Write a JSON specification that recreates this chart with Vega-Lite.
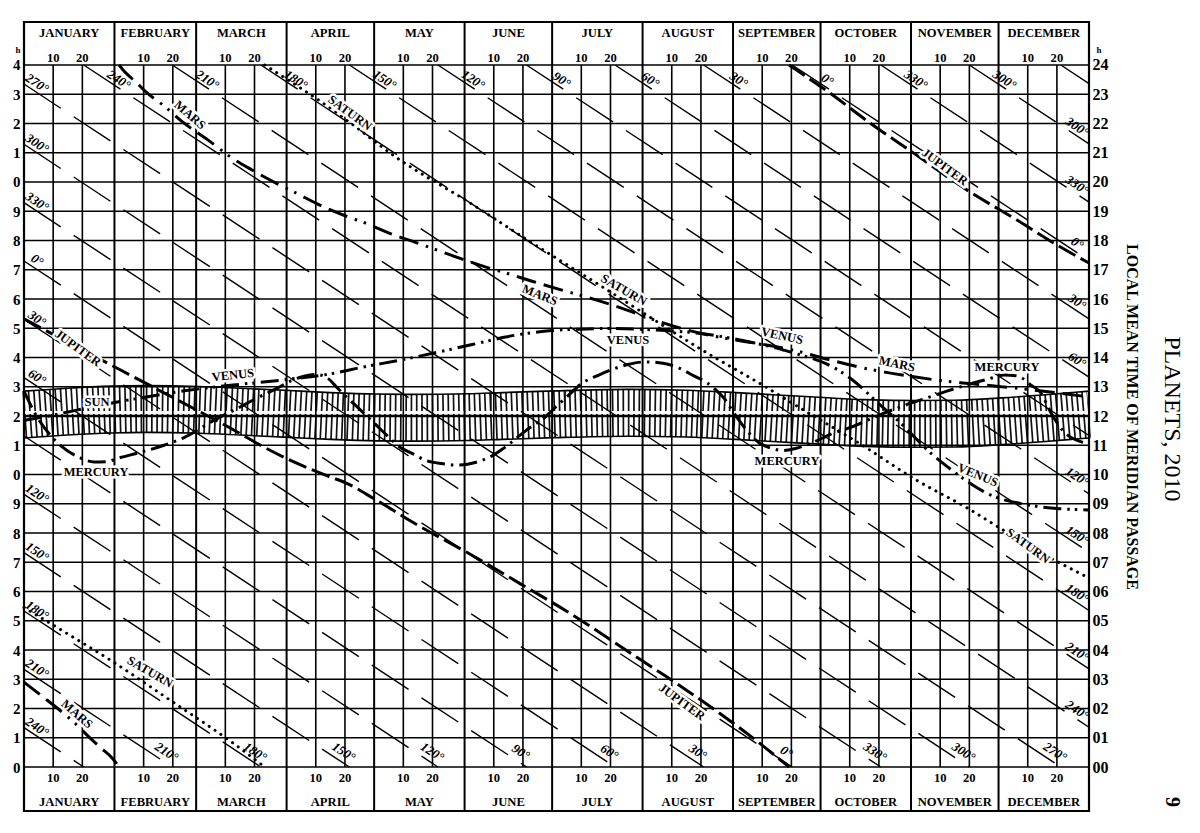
{
  "$schema": "https://vega.github.io/schema/vega-lite/v6.json",
  "width": 1065,
  "height": 789,
  "autosize": {"type": "none"},
  "padding": {"left": 24, "top": 22, "right": 111, "bottom": 22},
  "background": "white",
  "config": {
    "view": {"stroke": "#000", "strokeWidth": 2.2},
    "font": "Liberation Serif",
    "text": {"font": "Liberation Serif", "color": "#000"}
  },
  "datasets": {
    "band": [
      {"d": 0, "sun": 12.05, "top": 12.85, "bot": 11.25},
      {"d": 15, "sun": 12.15, "top": 12.95, "bot": 11.35},
      {"d": 30, "sun": 12.22, "top": 13.02, "bot": 11.42},
      {"d": 42, "sun": 12.24, "top": 13.04, "bot": 11.44},
      {"d": 60, "sun": 12.21, "top": 13.01, "bot": 11.41},
      {"d": 74, "sun": 12.15, "top": 12.95, "bot": 11.35},
      {"d": 91, "sun": 12.07, "top": 12.87, "bot": 11.27},
      {"d": 105, "sun": 12.0, "top": 12.8, "bot": 11.2},
      {"d": 121, "sun": 11.95, "top": 12.75, "bot": 11.15},
      {"d": 134, "sun": 11.94, "top": 12.74, "bot": 11.14},
      {"d": 152, "sun": 11.96, "top": 12.76, "bot": 11.16},
      {"d": 164, "sun": 12.0, "top": 12.8, "bot": 11.2},
      {"d": 182, "sun": 12.06, "top": 12.86, "bot": 11.26},
      {"d": 207, "sun": 12.11, "top": 12.91, "bot": 11.31},
      {"d": 227, "sun": 12.08, "top": 12.88, "bot": 11.28},
      {"d": 244, "sun": 12.0, "top": 12.8, "bot": 11.2},
      {"d": 258, "sun": 11.92, "top": 12.72, "bot": 11.12},
      {"d": 274, "sun": 11.83, "top": 12.63, "bot": 11.03},
      {"d": 288, "sun": 11.76, "top": 12.56, "bot": 10.96},
      {"d": 307, "sun": 11.73, "top": 12.53, "bot": 10.93},
      {"d": 319, "sun": 11.74, "top": 12.54, "bot": 10.94},
      {"d": 335, "sun": 11.82, "top": 12.62, "bot": 11.02},
      {"d": 349, "sun": 11.92, "top": 12.72, "bot": 11.12},
      {"d": 359, "sun": 12.0, "top": 12.8, "bot": 11.2},
      {"d": 365, "sun": 12.05, "top": 12.85, "bot": 11.25}
    ],
    "hours": [
      {"hv": 0}, {"hv": 1}, {"hv": 2}, {"hv": 3}, {"hv": 4}, {"hv": 5}, {"hv": 6}, {"hv": 7}, {"hv": 8}, {"hv": 9}, {"hv": 10}, {"hv": 11}, {"hv": 12},
      {"hv": 13}, {"hv": 14}, {"hv": 15}, {"hv": 16}, {"hv": 17}, {"hv": 18}, {"hv": 19}, {"hv": 20}, {"hv": 21}, {"hv": 22}, {"hv": 23}, {"hv": 24}
    ],
    "daylines": [
      {"d": 10, "t": "10"}, {"d": 20, "t": "20"}, {"d": 41, "t": "10"}, {"d": 51, "t": "20"},
      {"d": 69, "t": "10"}, {"d": 79, "t": "20"}, {"d": 100, "t": "10"}, {"d": 110, "t": "20"},
      {"d": 130, "t": "10"}, {"d": 140, "t": "20"}, {"d": 161, "t": "10"}, {"d": 171, "t": "20"},
      {"d": 191, "t": "10"}, {"d": 201, "t": "20"}, {"d": 222, "t": "10"}, {"d": 232, "t": "20"},
      {"d": 253, "t": "10"}, {"d": 263, "t": "20"}, {"d": 283, "t": "10"}, {"d": 293, "t": "20"},
      {"d": 314, "t": "10"}, {"d": 324, "t": "20"}, {"d": 344, "t": "10"}, {"d": 354, "t": "20"}
    ],
    "monthlines": [
      {"d": 0}, {"d": 31}, {"d": 59}, {"d": 90}, {"d": 120}, {"d": 151}, {"d": 181},
      {"d": 212}, {"d": 243}, {"d": 273}, {"d": 304}, {"d": 334}, {"d": 365}
    ],
    "months": [
      {"d": 15.5, "t": "JANUARY"}, {"d": 45, "t": "FEBRUARY"}, {"d": 74.5, "t": "MARCH"},
      {"d": 105, "t": "APRIL"}, {"d": 135.5, "t": "MAY"}, {"d": 166, "t": "JUNE"},
      {"d": 196.5, "t": "JULY"}, {"d": 227.5, "t": "AUGUST"}, {"d": 258, "t": "SEPTEMBER"},
      {"d": 288.5, "t": "OCTOBER"}, {"d": 319, "t": "NOVEMBER"}, {"d": 349.5, "t": "DECEMBER"}
    ],
    "ra": [
      {"k": "270a", "d": 0, "h": 23.35}, {"k": "270a", "d": 355.35, "h": 0},
      {"k": "270b", "d": 355.35, "h": 24}, {"k": "270b", "d": 365, "h": 23.366},
      {"k": "240a", "d": 0, "h": 1.3445}, {"k": "240a", "d": 20.46, "h": 0},
      {"k": "240b", "d": 20.46, "h": 24}, {"k": "240b", "d": 365, "h": 1.36},
      {"k": "210a", "d": 0, "h": 3.339}, {"k": "210a", "d": 50.81, "h": 0},
      {"k": "210b", "d": 50.81, "h": 24}, {"k": "210b", "d": 365, "h": 3.355},
      {"k": "180a", "d": 0, "h": 5.3335}, {"k": "180a", "d": 81.17, "h": 0},
      {"k": "180b", "d": 81.17, "h": 24}, {"k": "180b", "d": 365, "h": 5.35},
      {"k": "150a", "d": 0, "h": 7.328}, {"k": "150a", "d": 111.52, "h": 0},
      {"k": "150b", "d": 111.52, "h": 24}, {"k": "150b", "d": 365, "h": 7.344},
      {"k": "120a", "d": 0, "h": 9.3225}, {"k": "120a", "d": 141.87, "h": 0},
      {"k": "120b", "d": 141.87, "h": 24}, {"k": "120b", "d": 365, "h": 9.338},
      {"k": "90a", "d": 0, "h": 11.317}, {"k": "90a", "d": 172.23, "h": 0},
      {"k": "90b", "d": 172.23, "h": 24}, {"k": "90b", "d": 365, "h": 11.333},
      {"k": "60a", "d": 0, "h": 13.3115}, {"k": "60a", "d": 202.58, "h": 0},
      {"k": "60b", "d": 202.58, "h": 24}, {"k": "60b", "d": 365, "h": 13.328},
      {"k": "30a", "d": 0, "h": 15.306}, {"k": "30a", "d": 232.93, "h": 0},
      {"k": "30b", "d": 232.93, "h": 24}, {"k": "30b", "d": 365, "h": 15.322},
      {"k": "0a", "d": 0, "h": 17.3005}, {"k": "0a", "d": 263.29, "h": 0},
      {"k": "0b", "d": 263.29, "h": 24}, {"k": "0b", "d": 365, "h": 17.316},
      {"k": "330a", "d": 0, "h": 19.295}, {"k": "330a", "d": 293.64, "h": 0},
      {"k": "330b", "d": 293.64, "h": 24}, {"k": "330b", "d": 365, "h": 19.311},
      {"k": "300a", "d": 0, "h": 21.2895}, {"k": "300a", "d": 323.99, "h": 0},
      {"k": "300b", "d": 323.99, "h": 24}, {"k": "300b", "d": 365, "h": 21.305}
    ],
    "ralabels": [
      {"t": "270°", "d": 4.45, "h": 23.37}, {"t": "300°", "d": 4.45, "h": 21.31}, {"t": "330°", "d": 4.45, "h": 19.315},
      {"t": "0°", "d": 4.45, "h": 17.32}, {"t": "30°", "d": 4.45, "h": 15.326}, {"t": "60°", "d": 4.45, "h": 13.33},
      {"t": "120°", "d": 4.45, "h": 9.34}, {"t": "150°", "d": 4.45, "h": 7.35}, {"t": "180°", "d": 4.45, "h": 5.35},
      {"t": "210°", "d": 4.45, "h": 3.36}, {"t": "240°", "d": 4.45, "h": 1.36},
      {"t": "240°", "d": 32.46, "h": 23.49}, {"t": "210°", "d": 62.81, "h": 23.49}, {"t": "180°", "d": 93.17, "h": 23.49},
      {"t": "150°", "d": 123.52, "h": 23.49}, {"t": "120°", "d": 153.87, "h": 23.49}, {"t": "90°", "d": 184.23, "h": 23.49},
      {"t": "60°", "d": 214.58, "h": 23.49}, {"t": "30°", "d": 244.93, "h": 23.49}, {"t": "0°", "d": 275.29, "h": 23.49},
      {"t": "330°", "d": 305.64, "h": 23.49}, {"t": "300°", "d": 335.99, "h": 23.49},
      {"t": "300°", "d": 360.9, "h": 21.88}, {"t": "330°", "d": 360.9, "h": 19.89}, {"t": "0°", "d": 360.9, "h": 17.9},
      {"t": "30°", "d": 360.9, "h": 15.9}, {"t": "60°", "d": 360.9, "h": 13.91}, {"t": "120°", "d": 360.9, "h": 9.92},
      {"t": "150°", "d": 360.9, "h": 7.92}, {"t": "180°", "d": 360.9, "h": 5.93}, {"t": "210°", "d": 360.9, "h": 3.93},
      {"t": "240°", "d": 360.9, "h": 1.94},
      {"t": "210°", "d": 48.81, "h": 0.51}, {"t": "180°", "d": 79.17, "h": 0.51}, {"t": "150°", "d": 109.52, "h": 0.51},
      {"t": "120°", "d": 139.87, "h": 0.51}, {"t": "90°", "d": 170.23, "h": 0.51}, {"t": "60°", "d": 200.58, "h": 0.51},
      {"t": "30°", "d": 230.93, "h": 0.51}, {"t": "0°", "d": 261.29, "h": 0.51}, {"t": "330°", "d": 291.64, "h": 0.51},
      {"t": "300°", "d": 321.99, "h": 0.51}, {"t": "270°", "d": 353.35, "h": 0.51}
    ],
    "mercury": [
      {"d": 0, "h": 12.85}, {"d": 4, "h": 12.05}, {"d": 9, "h": 11.35}, {"d": 13, "h": 10.95}, {"d": 19, "h": 10.58},
      {"d": 24, "h": 10.43}, {"d": 28, "h": 10.44}, {"d": 33, "h": 10.58}, {"d": 40, "h": 10.76}, {"d": 48, "h": 11.0},
      {"d": 55, "h": 11.27}, {"d": 60, "h": 11.55}, {"d": 65, "h": 11.85}, {"d": 73, "h": 12.25}, {"d": 80, "h": 12.62},
      {"d": 87, "h": 12.96}, {"d": 91, "h": 13.18}, {"d": 96, "h": 13.36}, {"d": 100, "h": 13.42}, {"d": 104, "h": 13.3},
      {"d": 107, "h": 13.0}, {"d": 110, "h": 12.7}, {"d": 114, "h": 12.33}, {"d": 117.5, "h": 12.0}, {"d": 121, "h": 11.66},
      {"d": 125, "h": 11.28}, {"d": 129, "h": 10.92}, {"d": 133, "h": 10.72}, {"d": 138, "h": 10.47}, {"d": 143.6, "h": 10.37},
      {"d": 148, "h": 10.32}, {"d": 152, "h": 10.35}, {"d": 156, "h": 10.45}, {"d": 161, "h": 10.67}, {"d": 164, "h": 10.87},
      {"d": 168, "h": 11.18}, {"d": 172, "h": 11.5}, {"d": 179, "h": 12.0}, {"d": 183, "h": 12.38}, {"d": 186, "h": 12.65},
      {"d": 191, "h": 13.1}, {"d": 197, "h": 13.4}, {"d": 201, "h": 13.57}, {"d": 207, "h": 13.76}, {"d": 213, "h": 13.85},
      {"d": 219, "h": 13.8}, {"d": 225, "h": 13.62}, {"d": 229, "h": 13.4}, {"d": 234, "h": 13.14}, {"d": 237, "h": 12.9},
      {"d": 240, "h": 12.6}, {"d": 243, "h": 12.15}, {"d": 247, "h": 11.6}, {"d": 252, "h": 11.08}, {"d": 256, "h": 10.9},
      {"d": 260, "h": 10.82}, {"d": 264, "h": 10.88}, {"d": 270, "h": 11.08}, {"d": 277, "h": 11.4}, {"d": 283, "h": 11.6},
      {"d": 290, "h": 11.9}, {"d": 300, "h": 12.3}, {"d": 311, "h": 12.67}, {"d": 316, "h": 12.84}, {"d": 323, "h": 13.06},
      {"d": 330, "h": 13.25}, {"d": 336, "h": 13.4}, {"d": 340, "h": 13.38}, {"d": 342, "h": 13.3}, {"d": 345, "h": 13.06},
      {"d": 348, "h": 12.85}, {"d": 352.6, "h": 12.0}, {"d": 357, "h": 11.4}, {"d": 365, "h": 11.05}
    ],
    "venus": [
      {"d": 0, "h": 11.85}, {"d": 11, "h": 12.05}, {"d": 25, "h": 12.35}, {"d": 40, "h": 12.62}, {"d": 55, "h": 12.86},
      {"d": 71.6, "h": 13.06}, {"d": 82, "h": 13.16}, {"d": 92, "h": 13.27}, {"d": 105, "h": 13.44}, {"d": 116, "h": 13.67},
      {"d": 130, "h": 13.93}, {"d": 143.6, "h": 14.22}, {"d": 157, "h": 14.52}, {"d": 165, "h": 14.7}, {"d": 172, "h": 14.82},
      {"d": 181, "h": 14.92}, {"d": 190, "h": 14.97}, {"d": 200, "h": 14.99}, {"d": 210, "h": 14.97}, {"d": 220, "h": 14.92},
      {"d": 232, "h": 14.82}, {"d": 240, "h": 14.7}, {"d": 250, "h": 14.5}, {"d": 258, "h": 14.32}, {"d": 265, "h": 14.12},
      {"d": 275, "h": 13.78}, {"d": 282, "h": 13.38}, {"d": 287, "h": 12.98}, {"d": 291, "h": 12.6}, {"d": 296, "h": 12.15},
      {"d": 300, "h": 11.8}, {"d": 305, "h": 11.3}, {"d": 310, "h": 10.8}, {"d": 315, "h": 10.38}, {"d": 320, "h": 10.0},
      {"d": 325, "h": 9.65}, {"d": 330, "h": 9.36}, {"d": 335, "h": 9.16}, {"d": 341, "h": 9.02}, {"d": 348, "h": 8.9},
      {"d": 355, "h": 8.83}, {"d": 365, "h": 8.79}
    ],
    "mars": [
      {"s": "a", "d": 0, "h": 2.9}, {"s": "a", "d": 6.2, "h": 2.42}, {"s": "a", "d": 14, "h": 1.8}, {"s": "a", "d": 18, "h": 1.45},
      {"s": "a", "d": 21, "h": 1.15}, {"s": "a", "d": 26, "h": 0.68}, {"s": "a", "d": 30.2, "h": 0.31}, {"s": "a", "d": 32.6, "h": 0.0},
      {"s": "b", "d": 32.6, "h": 24.0}, {"s": "b", "d": 33.9, "h": 23.84}, {"s": "b", "d": 38.7, "h": 23.38}, {"s": "b", "d": 41.8, "h": 23.08},
      {"s": "b", "d": 48.5, "h": 22.56}, {"s": "b", "d": 54.1, "h": 22.07}, {"s": "b", "d": 63, "h": 21.44}, {"s": "b", "d": 71.6, "h": 20.8},
      {"s": "b", "d": 78, "h": 20.42}, {"s": "b", "d": 87, "h": 19.93}, {"s": "b", "d": 92.9, "h": 19.64}, {"s": "b", "d": 102, "h": 19.18},
      {"s": "b", "d": 110.7, "h": 18.82}, {"s": "b", "d": 116.9, "h": 18.6}, {"s": "b", "d": 126, "h": 18.22}, {"s": "b", "d": 134.6, "h": 17.92},
      {"s": "b", "d": 140.8, "h": 17.7}, {"s": "b", "d": 150, "h": 17.37}, {"s": "b", "d": 158.6, "h": 17.08}, {"s": "b", "d": 164.8, "h": 16.9},
      {"s": "b", "d": 174.4, "h": 16.6}, {"s": "b", "d": 188, "h": 16.2}, {"s": "b", "d": 196, "h": 15.97}, {"s": "b", "d": 205, "h": 15.68},
      {"s": "b", "d": 215, "h": 15.32}, {"s": "b", "d": 225, "h": 15.0}, {"s": "b", "d": 235, "h": 14.76}, {"s": "b", "d": 245, "h": 14.58},
      {"s": "b", "d": 255, "h": 14.42}, {"s": "b", "d": 265, "h": 14.22}, {"s": "b", "d": 275, "h": 13.95}, {"s": "b", "d": 285, "h": 13.7},
      {"s": "b", "d": 295, "h": 13.5}, {"s": "b", "d": 305, "h": 13.34}, {"s": "b", "d": 315, "h": 13.2}, {"s": "b", "d": 325, "h": 13.1},
      {"s": "b", "d": 335, "h": 13.0}, {"s": "b", "d": 345, "h": 12.9}, {"s": "b", "d": 355, "h": 12.78}, {"s": "b", "d": 365, "h": 12.65}
    ],
    "jupiter": [
      {"s": "a", "d": 0, "h": 15.32}, {"s": "a", "d": 20, "h": 14.26}, {"s": "a", "d": 40, "h": 13.21}, {"s": "a", "d": 60, "h": 12.16},
      {"s": "a", "d": 70.5, "h": 11.6}, {"s": "a", "d": 82, "h": 10.95}, {"s": "a", "d": 91, "h": 10.5}, {"s": "a", "d": 104, "h": 9.95},
      {"s": "a", "d": 110.6, "h": 9.7}, {"s": "a", "d": 120, "h": 9.17}, {"s": "a", "d": 133.7, "h": 8.34}, {"s": "a", "d": 154.6, "h": 7.18},
      {"s": "a", "d": 170, "h": 6.27}, {"s": "a", "d": 186.4, "h": 5.3}, {"s": "a", "d": 207.3, "h": 3.93}, {"s": "a", "d": 220, "h": 3.1},
      {"s": "a", "d": 235.4, "h": 2.05}, {"s": "a", "d": 250, "h": 0.98}, {"s": "a", "d": 262.2, "h": 0.0},
      {"s": "b", "d": 262.2, "h": 24.0}, {"s": "b", "d": 276.2, "h": 23.04}, {"s": "b", "d": 289.9, "h": 22.02}, {"s": "b", "d": 304.3, "h": 21.03},
      {"s": "b", "d": 324.2, "h": 19.66}, {"s": "b", "d": 340.3, "h": 18.7}, {"s": "b", "d": 354, "h": 17.85}, {"s": "b", "d": 365, "h": 17.23}
    ],
    "saturn": [
      {"s": "a", "d": 0, "h": 5.45}, {"s": "a", "d": 15, "h": 4.55}, {"s": "a", "d": 29.5, "h": 3.66}, {"s": "a", "d": 50, "h": 2.29},
      {"s": "a", "d": 71.6, "h": 0.82}, {"s": "a", "d": 82.5, "h": 0.0},
      {"s": "b", "d": 82.5, "h": 24.0}, {"s": "b", "d": 105.9, "h": 22.46}, {"s": "b", "d": 128.9, "h": 20.75}, {"s": "b", "d": 151.8, "h": 19.35},
      {"s": "b", "d": 174.4, "h": 17.9}, {"s": "b", "d": 196.4, "h": 16.53}, {"s": "b", "d": 208.7, "h": 15.75}, {"s": "b", "d": 231.7, "h": 14.3},
      {"s": "b", "d": 254.6, "h": 12.97}, {"s": "b", "d": 265.9, "h": 12.28}, {"s": "b", "d": 286.5, "h": 11.05}, {"s": "b", "d": 306, "h": 9.8},
      {"s": "b", "d": 323.2, "h": 8.86}, {"s": "b", "d": 336.9, "h": 8.02}, {"s": "b", "d": 350, "h": 7.25}, {"s": "b", "d": 365, "h": 6.46}
    ],
    "plabels0": [
      {"t": "SUN", "d": 25.0, "h": 12.48}, {"t": "MERCURY", "d": 24.7, "h": 10.09}, {"t": "MERCURY", "d": 261.5, "h": 10.46},
      {"t": "MERCURY", "d": 336.9, "h": 13.68}, {"t": "VENUS", "d": 207.0, "h": 14.6}
    ],
    "plabelsm6": [{"t": "VENUS", "d": 71.6, "h": 13.4}],
    "plabels12": [{"t": "MARS", "d": 299.2, "h": 13.78}, {"t": "VENUS", "d": 259.8, "h": 14.74}],
    "plabels22": [{"t": "VENUS", "d": 326.9, "h": 9.98}, {"t": "MARS", "d": 176.8, "h": 16.14}],
    "plabels30": [{"t": "SATURN", "d": 205.6, "h": 16.31}, {"t": "SATURN", "d": 43.2, "h": 3.25}],
    "plabels36": [
      {"t": "SATURN", "d": 111.7, "h": 22.36}, {"t": "SATURN", "d": 344.1, "h": 7.56}, {"t": "JUPITER", "d": 18.5, "h": 14.32},
      {"t": "JUPITER", "d": 315.6, "h": 20.51}, {"t": "JUPITER", "d": 225.5, "h": 2.22}
    ],
    "plabels41": [{"t": "MARS", "d": 56.9, "h": 22.29}, {"t": "MARS", "d": 18.2, "h": 1.81}]
  },
  "layer": [
    {
      "data": {"name": "band"},
      "mark": {"type": "line", "stroke": "#111", "strokeWidth": 46.8, "strokeDash": [1.7, 3.6], "strokeCap": "butt", "interpolate": "monotone"},
      "encoding": {
        "x": {"field": "d", "type": "quantitative", "scale": {"domain": [0, 365], "nice": false, "zero": false}, "axis": null},
        "y": {"field": "sun", "type": "quantitative", "scale": {"domain": [-1.504, 25.47], "nice": false, "zero": false}, "axis": null}
      }
    },
    {
      "data": {"name": "band"},
      "mark": {"type": "line", "stroke": "#000", "strokeWidth": 1.6, "interpolate": "monotone"},
      "encoding": {
        "x": {"field": "d", "type": "quantitative", "scale": {"domain": [0, 365], "nice": false, "zero": false}, "axis": null},
        "y": {"field": "top", "type": "quantitative", "scale": {"domain": [-1.504, 25.47], "nice": false, "zero": false}, "axis": null}
      }
    },
    {
      "data": {"name": "band"},
      "mark": {"type": "line", "stroke": "#000", "strokeWidth": 1.6, "interpolate": "monotone"},
      "encoding": {
        "x": {"field": "d", "type": "quantitative", "scale": {"domain": [0, 365], "nice": false, "zero": false}, "axis": null},
        "y": {"field": "bot", "type": "quantitative", "scale": {"domain": [-1.504, 25.47], "nice": false, "zero": false}, "axis": null}
      }
    },
    {
      "data": {"values": [{"z": 1}]},
      "mark": {"type": "rule", "stroke": "#fff", "strokeWidth": 3},
      "encoding": {
        "y": {"datum": 12.12, "type": "quantitative", "scale": {"domain": [-1.504, 25.47], "nice": false, "zero": false}, "axis": null}
      }
    },
    {
      "data": {"name": "hours"},
      "mark": {"type": "rule", "stroke": "#000", "strokeWidth": 1.6},
      "encoding": {
        "y": {"field": "hv", "type": "quantitative", "scale": {"domain": [-1.504, 25.47], "nice": false, "zero": false},
          "axis": {"orient": "left", "values": [0,1,2,3,4,5,6,7,8,9,10,11,12,13,14,15,16,17,18,19,20,21,22,23,24],
            "labelExpr": "'' + (datum.value % 10)", "ticks": false, "domain": false, "grid": false,
            "labelFont": "Liberation Serif", "labelFontWeight": "bold", "labelFontSize": 15, "labelColor": "#000", "labelPadding": 4, "title": null}}
      }
    },
    {
      "data": {"name": "hours"},
      "mark": {"type": "point", "opacity": 0},
      "encoding": {
        "x": {"datum": 0, "type": "quantitative", "scale": {"domain": [0, 365], "nice": false, "zero": false}, "axis": null},
        "y": {"field": "hv", "type": "quantitative", "scale": {"domain": [-1.504, 25.47], "nice": false, "zero": false},
          "axis": {"orient": "right", "values": [0,1,2,3,4,5,6,7,8,9,10,11,12,13,14,15,16,17,18,19,20,21,22,23,24],
            "labelExpr": "datum.value < 10 ? '0' + datum.value : '' + datum.value", "ticks": false, "domain": false, "grid": false,
            "labelFont": "Liberation Serif", "labelFontWeight": "bold", "labelFontSize": 16, "labelColor": "#000", "labelPadding": 3,
            "title": "LOCAL MEAN TIME OF MERIDIAN PASSAGE", "titleFont": "Liberation Serif", "titleFontWeight": "bold", "titleFontSize": 16,
            "titleColor": "#000", "titlePadding": 15, "titleAngle": 90}}
      }
    },
    {
      "data": {"values": [{"z": 1}]},
      "mark": {"type": "rule", "stroke": "#000", "strokeWidth": 2.6},
      "encoding": {
        "y": {"datum": 12.0, "type": "quantitative", "scale": {"domain": [-1.504, 25.47], "nice": false, "zero": false}, "axis": null}
      }
    },
    {
      "data": {"name": "daylines"},
      "mark": {"type": "rule", "stroke": "#000", "strokeWidth": 1.6},
      "encoding": {
        "x": {"field": "d", "type": "quantitative", "scale": {"domain": [0, 365], "nice": false, "zero": false}, "axis": null},
        "y": {"datum": 0, "type": "quantitative", "scale": {"domain": [-1.504, 25.47], "nice": false, "zero": false}, "axis": null},
        "y2": {"datum": 24}
      }
    },
    {
      "data": {"name": "monthlines"},
      "mark": {"type": "rule", "stroke": "#000", "strokeWidth": 2},
      "encoding": {
        "x": {"field": "d", "type": "quantitative", "scale": {"domain": [0, 365], "nice": false, "zero": false}, "axis": null}
      }
    },
    {
      "data": {"name": "ra"},
      "mark": {"type": "line", "stroke": "#000", "strokeWidth": 1.4, "strokeDash": [44, 15.5], "strokeCap": "butt"},
      "encoding": {
        "x": {"field": "d", "type": "quantitative", "scale": {"domain": [0, 365], "nice": false, "zero": false}, "axis": null},
        "y": {"field": "h", "type": "quantitative", "scale": {"domain": [-1.504, 25.47], "nice": false, "zero": false}, "axis": null},
        "detail": {"field": "k"}
      }
    },
    {
      "data": {"name": "jupiter"},
      "mark": {"type": "line", "stroke": "#000", "strokeWidth": 3, "strokeDash": [19, 6], "strokeCap": "butt", "interpolate": "monotone"},
      "encoding": {
        "x": {"field": "d", "type": "quantitative", "scale": {"domain": [0, 365], "nice": false, "zero": false}, "axis": null},
        "y": {"field": "h", "type": "quantitative", "scale": {"domain": [-1.504, 25.47], "nice": false, "zero": false}, "axis": null},
        "detail": {"field": "s"}
      }
    },
    {
      "data": {"name": "saturn"},
      "mark": {"type": "line", "stroke": "#000", "strokeWidth": 3, "strokeDash": [0.1, 7], "strokeCap": "round", "interpolate": "monotone"},
      "encoding": {
        "x": {"field": "d", "type": "quantitative", "scale": {"domain": [0, 365], "nice": false, "zero": false}, "axis": null},
        "y": {"field": "h", "type": "quantitative", "scale": {"domain": [-1.504, 25.47], "nice": false, "zero": false}, "axis": null},
        "detail": {"field": "s"}
      }
    },
    {
      "data": {"name": "mars"},
      "mark": {"type": "line", "stroke": "#000", "strokeWidth": 3, "strokeDash": [20, 8, 20, 8, 2.5, 7, 2.5, 8], "strokeCap": "butt", "interpolate": "monotone"},
      "encoding": {
        "x": {"field": "d", "type": "quantitative", "scale": {"domain": [0, 365], "nice": false, "zero": false}, "axis": null},
        "y": {"field": "h", "type": "quantitative", "scale": {"domain": [-1.504, 25.47], "nice": false, "zero": false}, "axis": null},
        "detail": {"field": "s"}
      }
    },
    {
      "data": {"name": "venus"},
      "mark": {"type": "line", "stroke": "#000", "strokeWidth": 3, "strokeDash": [18, 6, 2.5, 5, 2.5, 6], "strokeCap": "butt", "interpolate": "monotone"},
      "encoding": {
        "x": {"field": "d", "type": "quantitative", "scale": {"domain": [0, 365], "nice": false, "zero": false}, "axis": null},
        "y": {"field": "h", "type": "quantitative", "scale": {"domain": [-1.504, 25.47], "nice": false, "zero": false}, "axis": null}
      }
    },
    {
      "data": {"name": "mercury"},
      "mark": {"type": "line", "stroke": "#000", "strokeWidth": 3, "strokeDash": [18, 6, 2.5, 6], "strokeCap": "butt", "interpolate": "monotone"},
      "encoding": {
        "x": {"field": "d", "type": "quantitative", "scale": {"domain": [0, 365], "nice": false, "zero": false}, "axis": null},
        "y": {"field": "h", "type": "quantitative", "scale": {"domain": [-1.504, 25.47], "nice": false, "zero": false}, "axis": null}
      }
    },
    {
      "data": {"name": "months"},
      "mark": {"type": "text", "fontSize": 12.6, "fontWeight": "bold", "align": "center", "baseline": "middle"},
      "encoding": {
        "x": {"field": "d", "type": "quantitative", "scale": {"domain": [0, 365], "nice": false, "zero": false}, "axis": null},
        "y": {"datum": 25.094, "type": "quantitative", "scale": {"domain": [-1.504, 25.47], "nice": false, "zero": false}, "axis": null},
        "text": {"field": "t"}
      }
    },
    {
      "data": {"name": "months"},
      "mark": {"type": "text", "fontSize": 12.6, "fontWeight": "bold", "align": "center", "baseline": "middle"},
      "encoding": {
        "x": {"field": "d", "type": "quantitative", "scale": {"domain": [0, 365], "nice": false, "zero": false}, "axis": null},
        "y": {"datum": -1.207, "type": "quantitative", "scale": {"domain": [-1.504, 25.47], "nice": false, "zero": false}, "axis": null},
        "text": {"field": "t"}
      }
    },
    {
      "data": {"name": "daylines"},
      "mark": {"type": "text", "fontSize": 12.6, "fontWeight": "bold", "align": "center", "baseline": "middle"},
      "encoding": {
        "x": {"field": "d", "type": "quantitative", "scale": {"domain": [0, 365], "nice": false, "zero": false}, "axis": null},
        "y": {"datum": 24.256, "type": "quantitative", "scale": {"domain": [-1.504, 25.47], "nice": false, "zero": false}, "axis": null},
        "text": {"field": "t"}
      }
    },
    {
      "data": {"name": "daylines"},
      "mark": {"type": "text", "fontSize": 12.6, "fontWeight": "bold", "align": "center", "baseline": "middle"},
      "encoding": {
        "x": {"field": "d", "type": "quantitative", "scale": {"domain": [0, 365], "nice": false, "zero": false}, "axis": null},
        "y": {"datum": -0.366, "type": "quantitative", "scale": {"domain": [-1.504, 25.47], "nice": false, "zero": false}, "axis": null},
        "text": {"field": "t"}
      }
    },
    {
      "data": {"name": "ralabels"},
      "mark": {"type": "text", "fontSize": 13, "fontStyle": "italic", "fontWeight": "bold", "align": "center", "baseline": "middle", "angle": 33.4},
      "encoding": {
        "x": {"field": "d", "type": "quantitative", "scale": {"domain": [0, 365], "nice": false, "zero": false}, "axis": null},
        "y": {"field": "h", "type": "quantitative", "scale": {"domain": [-1.504, 25.47], "nice": false, "zero": false}, "axis": null},
        "text": {"field": "t"}
      }
    },
    {
      "data": {"name": "plabels0"},
      "mark": {"type": "text", "fontSize": 12.5, "fontWeight": "bold", "align": "center", "baseline": "middle", "angle": 0, "fill": "#fff", "stroke": "#fff", "strokeWidth": 5, "strokeJoin": "round"},
      "encoding": {
        "x": {"field": "d", "type": "quantitative", "scale": {"domain": [0, 365], "nice": false, "zero": false}, "axis": null},
        "y": {"field": "h", "type": "quantitative", "scale": {"domain": [-1.504, 25.47], "nice": false, "zero": false}, "axis": null},
        "text": {"field": "t"}
      }
    },
    {
      "data": {"name": "plabels0"},
      "mark": {"type": "text", "fontSize": 12.5, "fontWeight": "bold", "align": "center", "baseline": "middle", "angle": 0},
      "encoding": {
        "x": {"field": "d", "type": "quantitative", "scale": {"domain": [0, 365], "nice": false, "zero": false}, "axis": null},
        "y": {"field": "h", "type": "quantitative", "scale": {"domain": [-1.504, 25.47], "nice": false, "zero": false}, "axis": null},
        "text": {"field": "t"}
      }
    },
    {
      "data": {"name": "plabelsm6"},
      "mark": {"type": "text", "fontSize": 12.5, "fontWeight": "bold", "align": "center", "baseline": "middle", "angle": -6, "fill": "#fff", "stroke": "#fff", "strokeWidth": 5, "strokeJoin": "round"},
      "encoding": {
        "x": {"field": "d", "type": "quantitative", "scale": {"domain": [0, 365], "nice": false, "zero": false}, "axis": null},
        "y": {"field": "h", "type": "quantitative", "scale": {"domain": [-1.504, 25.47], "nice": false, "zero": false}, "axis": null},
        "text": {"field": "t"}
      }
    },
    {
      "data": {"name": "plabelsm6"},
      "mark": {"type": "text", "fontSize": 12.5, "fontWeight": "bold", "align": "center", "baseline": "middle", "angle": -6},
      "encoding": {
        "x": {"field": "d", "type": "quantitative", "scale": {"domain": [0, 365], "nice": false, "zero": false}, "axis": null},
        "y": {"field": "h", "type": "quantitative", "scale": {"domain": [-1.504, 25.47], "nice": false, "zero": false}, "axis": null},
        "text": {"field": "t"}
      }
    },
    {
      "data": {"name": "plabels12"},
      "mark": {"type": "text", "fontSize": 12.5, "fontWeight": "bold", "align": "center", "baseline": "middle", "angle": 12, "fill": "#fff", "stroke": "#fff", "strokeWidth": 5, "strokeJoin": "round"},
      "encoding": {
        "x": {"field": "d", "type": "quantitative", "scale": {"domain": [0, 365], "nice": false, "zero": false}, "axis": null},
        "y": {"field": "h", "type": "quantitative", "scale": {"domain": [-1.504, 25.47], "nice": false, "zero": false}, "axis": null},
        "text": {"field": "t"}
      }
    },
    {
      "data": {"name": "plabels12"},
      "mark": {"type": "text", "fontSize": 12.5, "fontWeight": "bold", "align": "center", "baseline": "middle", "angle": 12},
      "encoding": {
        "x": {"field": "d", "type": "quantitative", "scale": {"domain": [0, 365], "nice": false, "zero": false}, "axis": null},
        "y": {"field": "h", "type": "quantitative", "scale": {"domain": [-1.504, 25.47], "nice": false, "zero": false}, "axis": null},
        "text": {"field": "t"}
      }
    },
    {
      "data": {"name": "plabels22"},
      "mark": {"type": "text", "fontSize": 12.5, "fontWeight": "bold", "align": "center", "baseline": "middle", "angle": 22, "fill": "#fff", "stroke": "#fff", "strokeWidth": 5, "strokeJoin": "round"},
      "encoding": {
        "x": {"field": "d", "type": "quantitative", "scale": {"domain": [0, 365], "nice": false, "zero": false}, "axis": null},
        "y": {"field": "h", "type": "quantitative", "scale": {"domain": [-1.504, 25.47], "nice": false, "zero": false}, "axis": null},
        "text": {"field": "t"}
      }
    },
    {
      "data": {"name": "plabels22"},
      "mark": {"type": "text", "fontSize": 12.5, "fontWeight": "bold", "align": "center", "baseline": "middle", "angle": 22},
      "encoding": {
        "x": {"field": "d", "type": "quantitative", "scale": {"domain": [0, 365], "nice": false, "zero": false}, "axis": null},
        "y": {"field": "h", "type": "quantitative", "scale": {"domain": [-1.504, 25.47], "nice": false, "zero": false}, "axis": null},
        "text": {"field": "t"}
      }
    },
    {
      "data": {"name": "plabels30"},
      "mark": {"type": "text", "fontSize": 12.5, "fontWeight": "bold", "align": "center", "baseline": "middle", "angle": 30, "fill": "#fff", "stroke": "#fff", "strokeWidth": 5, "strokeJoin": "round"},
      "encoding": {
        "x": {"field": "d", "type": "quantitative", "scale": {"domain": [0, 365], "nice": false, "zero": false}, "axis": null},
        "y": {"field": "h", "type": "quantitative", "scale": {"domain": [-1.504, 25.47], "nice": false, "zero": false}, "axis": null},
        "text": {"field": "t"}
      }
    },
    {
      "data": {"name": "plabels30"},
      "mark": {"type": "text", "fontSize": 12.5, "fontWeight": "bold", "align": "center", "baseline": "middle", "angle": 30},
      "encoding": {
        "x": {"field": "d", "type": "quantitative", "scale": {"domain": [0, 365], "nice": false, "zero": false}, "axis": null},
        "y": {"field": "h", "type": "quantitative", "scale": {"domain": [-1.504, 25.47], "nice": false, "zero": false}, "axis": null},
        "text": {"field": "t"}
      }
    },
    {
      "data": {"name": "plabels36"},
      "mark": {"type": "text", "fontSize": 12.5, "fontWeight": "bold", "align": "center", "baseline": "middle", "angle": 36, "fill": "#fff", "stroke": "#fff", "strokeWidth": 5, "strokeJoin": "round"},
      "encoding": {
        "x": {"field": "d", "type": "quantitative", "scale": {"domain": [0, 365], "nice": false, "zero": false}, "axis": null},
        "y": {"field": "h", "type": "quantitative", "scale": {"domain": [-1.504, 25.47], "nice": false, "zero": false}, "axis": null},
        "text": {"field": "t"}
      }
    },
    {
      "data": {"name": "plabels36"},
      "mark": {"type": "text", "fontSize": 12.5, "fontWeight": "bold", "align": "center", "baseline": "middle", "angle": 36},
      "encoding": {
        "x": {"field": "d", "type": "quantitative", "scale": {"domain": [0, 365], "nice": false, "zero": false}, "axis": null},
        "y": {"field": "h", "type": "quantitative", "scale": {"domain": [-1.504, 25.47], "nice": false, "zero": false}, "axis": null},
        "text": {"field": "t"}
      }
    },
    {
      "data": {"name": "plabels41"},
      "mark": {"type": "text", "fontSize": 12.5, "fontWeight": "bold", "align": "center", "baseline": "middle", "angle": 41, "fill": "#fff", "stroke": "#fff", "strokeWidth": 5, "strokeJoin": "round"},
      "encoding": {
        "x": {"field": "d", "type": "quantitative", "scale": {"domain": [0, 365], "nice": false, "zero": false}, "axis": null},
        "y": {"field": "h", "type": "quantitative", "scale": {"domain": [-1.504, 25.47], "nice": false, "zero": false}, "axis": null},
        "text": {"field": "t"}
      }
    },
    {
      "data": {"name": "plabels41"},
      "mark": {"type": "text", "fontSize": 12.5, "fontWeight": "bold", "align": "center", "baseline": "middle", "angle": 41},
      "encoding": {
        "x": {"field": "d", "type": "quantitative", "scale": {"domain": [0, 365], "nice": false, "zero": false}, "axis": null},
        "y": {"field": "h", "type": "quantitative", "scale": {"domain": [-1.504, 25.47], "nice": false, "zero": false}, "axis": null},
        "text": {"field": "t"}
      }
    },
    {
      "data": {"values": [{"t": "h", "d": -2.06, "h": 24.5}, {"t": "h", "d": 368.4, "h": 24.5}]},
      "mark": {"type": "text", "fontSize": 9, "fontWeight": "bold", "align": "center", "baseline": "middle"},
      "encoding": {
        "x": {"field": "d", "type": "quantitative", "scale": {"domain": [0, 365], "nice": false, "zero": false}, "axis": null},
        "y": {"field": "h", "type": "quantitative", "scale": {"domain": [-1.504, 25.47], "nice": false, "zero": false}, "axis": null},
        "text": {"field": "t"}
      }
    },
    {
      "data": {"values": [{"t": "PLANETS, 2010", "d": 393.6, "h": 11.9}]},
      "mark": {"type": "text", "fontSize": 24, "fontWeight": "normal", "align": "center", "baseline": "middle", "angle": 90},
      "encoding": {
        "x": {"field": "d", "type": "quantitative", "scale": {"domain": [0, 365], "nice": false, "zero": false}, "axis": null},
        "y": {"field": "h", "type": "quantitative", "scale": {"domain": [-1.504, 25.47], "nice": false, "zero": false}, "axis": null},
        "text": {"field": "t"}
      }
    },
    {
      "data": {"values": [{"t": "9", "d": 393.3, "h": -1.2}]},
      "mark": {"type": "text", "fontSize": 20, "fontWeight": "bold", "align": "center", "baseline": "middle", "angle": 90},
      "encoding": {
        "x": {"field": "d", "type": "quantitative", "scale": {"domain": [0, 365], "nice": false, "zero": false}, "axis": null},
        "y": {"field": "h", "type": "quantitative", "scale": {"domain": [-1.504, 25.47], "nice": false, "zero": false}, "axis": null},
        "text": {"field": "t"}
      }
    }
  ],
  "resolve": {"axis": {"y": "independent"}}
}
